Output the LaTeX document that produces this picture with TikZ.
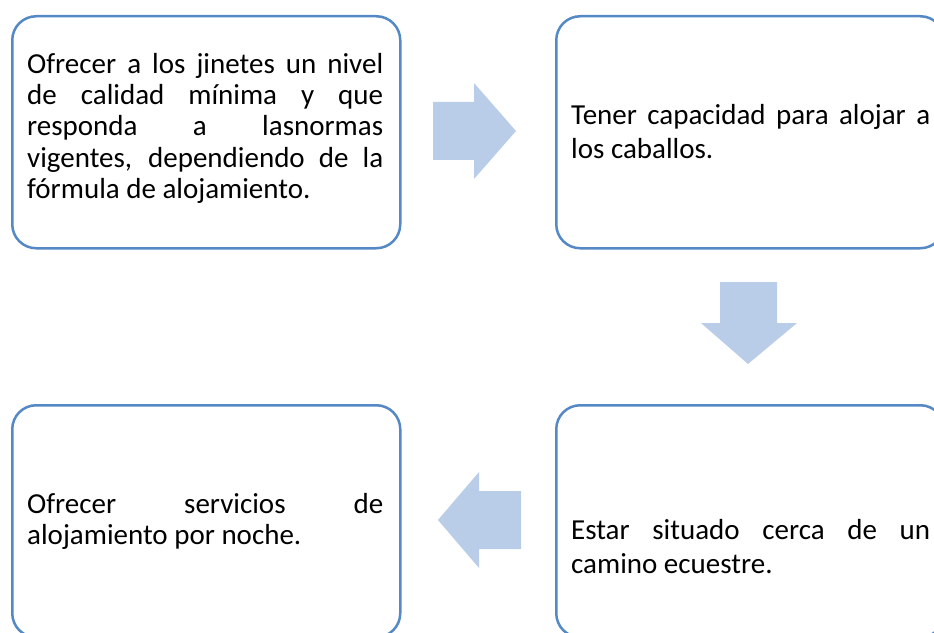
\documentclass[tikz,border=0pt]{standalone}
\usepackage{fontspec}
\setmainfont{Carlito}
\hbadness=10000
\hfuzz=50pt
\definecolor{boxline}{RGB}{84,137,198}
\definecolor{arrowfill}{RGB}{185,205,232}
\tikzset{
  stepbox/.style={draw=boxline, line width=2.5bp, rounded corners=24bp, minimum width=388bp, minimum height=232bp, inner sep=0pt, anchor=north west},
  steptext/.style={text width=356bp, align=justify, inner sep=0pt, anchor=north west, font=\fontsize{29bp}{34bp}\selectfont},
  bigarrow/.style={fill=arrowfill, draw=none}
}
\newcommand{\firststrut}{\rule{0pt}{24bp}}
\begin{document}
\begin{tikzpicture}[x=1bp, y=-1bp]
\useasboundingbox (0,0) rectangle (934,633);
% boxes
\node[stepbox] (b1) at (11,15) {};
\node[stepbox] (b2) at (555,15) {};
\node[stepbox] (b3) at (555,404) {};
\node[stepbox] (b4) at (11,404) {};
% texts
\node[steptext, font=\fontsize{29bp}{31.3bp}\selectfont] (t1) at (27,49) {\firststrut Ofrecer a los jinetes un nivel\linebreak de calidad mínima y que\linebreak responda a lasnormas\linebreak vigentes, dependiendo de la\linebreak fórmula de alojamiento.};
\node[steptext, text width=359bp] (t2) at (571,100) {\firststrut Tener capacidad para alojar a\linebreak los caballos.};
\node[steptext, text width=359bp] (t3) at (571,515) {\firststrut Estar situado cerca de un\linebreak camino ecuestre.};
\node[steptext, font=\fontsize{29bp}{31bp}\selectfont] (t4) at (27,489) {\firststrut Ofrecer servicios de\linebreak alojamiento por noche.};
% arrows
\fill[bigarrow] (433,102) -- (474,102) -- (474,83) -- (516,131) -- (474,179) -- (474,160) -- (433,160) -- cycle;
\fill[bigarrow] (720,282) -- (777,282) -- (777,323) -- (797,323) -- (748,364) -- (701,323) -- (720,323) -- cycle;
\fill[bigarrow] (521,491) -- (479,491) -- (479,472) -- (438,520) -- (479,568) -- (479,549) -- (521,549) -- cycle;
\end{tikzpicture}
\end{document}
